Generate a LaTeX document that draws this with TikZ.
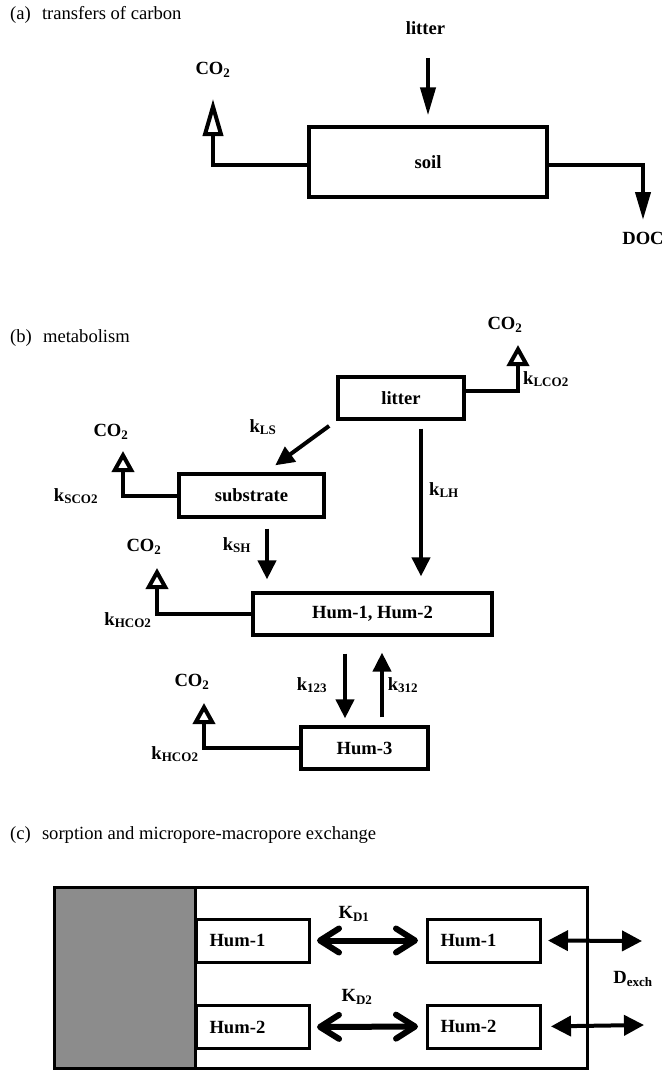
\documentclass[tikz,border=0pt]{standalone}
\usepackage{fontspec}
\setmainfont{Liberation Serif}
\usetikzlibrary{arrows.meta,calc,positioning}
\definecolor{solidgray}{RGB}{140,140,140}
\newcommand\lblfont{\fontsize{18.6}{22}\selectfont\bfseries}
\newcommand\capfont{\fontsize{18.6}{22}\selectfont}
\newcommand\cotwo{CO\textsubscript{2}}
\newcommand\rate[2]{#1\textsubscript{#2}}

\begin{document}
\begin{tikzpicture}[x=1pt,y=-1pt,
  lbl/.style={font=\lblfont, inner sep=0pt},
  panelcap/.style={font=\capfont, anchor=west, inner sep=0pt},
  box/.style={draw, line width=3.2pt, inner sep=0pt, font=\lblfont},
  humbox/.style={box, line width=3pt, minimum height=43pt, text width=87pt, inner xsep=13pt, align=left},
  flowA/.style={line width=4pt, -{Triangle[length=28pt,width=15pt]}},
  flowB/.style={line width=4pt, -{Triangle[length=19pt,width=18pt]}},
  ventA/.style={line width=4pt, -{Triangle[open,length=37pt,width=20pt,fill=white]}},
  ventB/.style={line width=4pt, -{Triangle[open,length=21pt,width=22pt,fill=white]}},
  sorb/.style={line width=6pt, {Straight Barb[length=19pt,width=24pt,round]}-{Straight Barb[length=19pt,width=24pt,round]}},
  exch/.style={line width=4pt, {Triangle[length=20pt,width=20pt]}-{Triangle[length=20pt,width=20pt]}}]
  \useasboundingbox (0,0) rectangle (665,1070);

  % (a) transfers of carbon
  \node[panelcap] (ttlA) at (10,15) {(a)\hspace{0.6em}transfers of carbon};
  \node[lbl] (litA) at (425.5,28) {litter};
  \node[box, minimum width=238pt, minimum height=70pt] (soil) at (428,162) {soil};
  \node[lbl] (co2A) at (213,70) {\cotwo};
  \node[lbl] (doc) at (643,238) {DOC};
  \coordinate (litIn) at (428,58);
  \draw[flowA, shorten >=10pt] (litIn) -- (soil.north);
  \draw[ventA] ($(soil.west)+(0,3)$) -| ($(co2A)+(0,29)$);
  \draw[flowA] ($(soil.east)+(0,3)$) -| ($(doc)+(0,-18)$);

  % (b) metabolism
  \node[panelcap] (ttlB) at (10,338) {(b)\hspace{0.6em}metabolism};
  \node[box, minimum width=126pt, minimum height=42pt] (litter) at (401,398) {litter};
  \node[box, minimum width=145pt, minimum height=43pt] (substrate) at (251.5,495.5) {substrate};
  \node[box, minimum width=239pt, minimum height=42pt] (hum12) at (372.5,614) {Hum-1, Hum-2};
  \node[box, minimum width=127pt, minimum height=42pt] (hum3) at (364.5,748) {Hum-3};
  \node[lbl] (co2L) at (505,325) {\cotwo};
  \node[lbl] (co2S) at (111,432) {\cotwo};
  \node[lbl] (co2H) at (144,547) {\cotwo};
  \node[lbl] (co2T) at (192,682) {\cotwo};
  \node[lbl, anchor=west] (kLCO) at (523,379) {\rate{k}{LCO2}};
  \node[lbl] (kLS) at (263,427) {\rate{k}{LS}};
  \node[lbl] (kSCO) at (76,496) {\rate{k}{SCO2}};
  \node[lbl] (kSH) at (237,545) {\rate{k}{SH}};
  \node[lbl] (kLH) at (444,490) {\rate{k}{LH}};
  \node[lbl] (kHCO) at (128,620) {\rate{k}{HCO2}};
  \node[lbl] (k123) at (312,685) {\rate{k}{123}};
  \node[lbl] (k312) at (403,685) {\rate{k}{312}};
  \node[lbl] (kHCOb) at (175,754) {\rate{k}{HCO2}};
  % CO2 losses
  \draw[ventB] ($(litter.east)+(0,-7)$) -| ($(co2L)+(13,20)$);
  \draw[ventB] (substrate.west) -| ($(co2S)+(12,19)$);
  \draw[ventB] (hum12.west) -| ($(co2H)+(13,21)$);
  \draw[ventB] (hum3.west) -| ($(co2T)+(12,21)$);
  % transfers between pools
  \coordinate (shTop) at ($(substrate.south)+(15.5,0)$);
  \coordinate (lhTop) at ($(litter.south)+(20,0)$);
  \coordinate (dnBot) at ($(hum3.north)+(-19.5,0)$);
  \coordinate (upBot) at ($(hum3.north)+(17.5,0)$);
  \draw[flowB, shorten <=9pt, shorten >=12pt] (litter.south west) -- ($(substrate.north)+(14,0)$);
  \draw[flowB, shorten <=10pt, shorten >=12pt] (shTop) -- (shTop |- hum12.north);
  \draw[flowB, shorten <=8pt, shorten >=15pt] (lhTop) -- (lhTop |- hum12.north);
  \draw[flowB, shorten <=17pt, shorten >=7pt] (dnBot |- hum12.south) -- (dnBot);
  \draw[flowB, shorten <=8pt, shorten >=16pt] (upBot) -- (upBot |- hum12.south);

  % (c) sorption and exchange
  \node[panelcap] (ttlC) at (10,835) {(c)\hspace{0.6em}sorption and micropore-macropore exchange};
  \fill[solidgray] (54,887) rectangle (195,1068);
  \draw[line width=3pt] (54,887) rectangle (587,1068);
  \draw[line width=3pt] (195,887) -- (195,1068);
  \node[humbox, anchor=west] (sorb1) at (195,940.5) {Hum-1};
  \node[humbox, anchor=west] (sorb2) at (195,1027) {Hum-2};
  \node[humbox, anchor=west] (pore1) at (426,940.5) {Hum-1};
  \node[humbox, anchor=west] (pore2) at (426,1026.5) {Hum-2};
  \draw[sorb, shorten <=6pt, shorten >=8pt] (sorb1.east) -- (pore1.west);
  \draw[sorb, shorten <=6pt, shorten >=8pt] (sorb2.east) -- (pore2.west);
  \node[lbl] (kd1) at (354,914) {\rate{K}{D1}};
  \node[lbl] (kd2) at (357,997) {\rate{K}{D2}};
  \coordinate (out1) at (642,941);
  \coordinate (out2) at (644,1025);
  \draw[exch, shorten <=6pt] (pore1.east) -- (out1);
  \draw[exch, shorten <=9pt] (pore2.east) -- (out2);
  \node[lbl] (dexch) at (633,979) {\rate{D}{exch}};
\end{tikzpicture}
\end{document}
